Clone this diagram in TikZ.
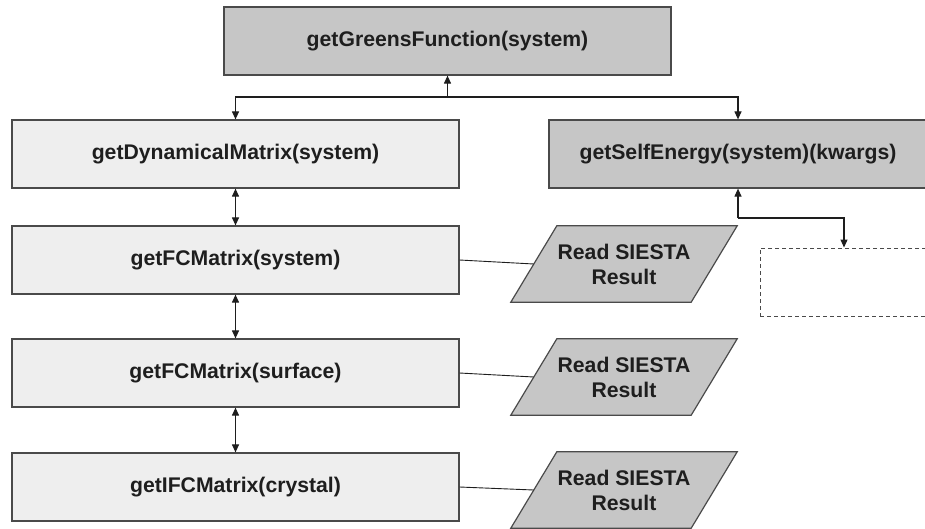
\documentclass[tikz,border=0pt]{standalone}
\usepackage{fontspec}
\setmainfont{Liberation Sans}
\usetikzlibrary{arrows.meta,backgrounds}

\definecolor{boxdark}{HTML}{C6C6C6}
\definecolor{boxlight}{HTML}{EEEEEE}
\definecolor{edgegray}{HTML}{4A4A4A}
\definecolor{inkgray}{HTML}{1E1E1E}

\tikzset{
  base/.style={draw=edgegray, line width=1.2pt, minimum height=68pt,
    inner sep=0pt, text=inkgray, align=center,
    font=\fontsize{21.2}{25}\selectfont\bfseries},
  funcdark/.style={base, fill=boxdark},
  funclight/.style={base, fill=boxlight},
  pending/.style={draw=edgegray, line width=1pt, dashed,
    dash pattern=on 4pt off 3pt, minimum height=68pt, minimum width=168pt},
  iobox/.style={minimum width=180pt, minimum height=76pt, inner sep=0pt,
    text=inkgray, align=center, font=\fontsize{21.2}{25}\selectfont\bfseries},
  ioshape/.style={fill=boxdark, draw=edgegray, line width=1.2pt},
  flow/.style={draw=inkgray, line width=1.1pt,
    -{Triangle[length=8pt,width=7pt]}},
  biflow/.style={draw=inkgray, line width=1.1pt,
    {Triangle[length=8pt,width=7pt]}-{Triangle[length=8pt,width=7pt]}},
  link/.style={draw=inkgray, line width=0.9pt}
}

\begin{document}
\begin{tikzpicture}[x=1pt, y=-1pt]
  \useasboundingbox (0,0) rectangle (925,528);

  % function blocks
  \node[funcdark, minimum width=447pt] (green) at (447.5,41) {getGreensFunction(system)};
  \node[funclight, minimum width=447pt] (dyn) at (235.5,154) {getDynamicalMatrix(system)};
  \node[funcdark, minimum width=378pt] (self) at (738,154) {getSelfEnergy(system)(kwargs)};
  \node[funclight, minimum width=447pt] (fcsys) at (235.5,260) {getFCMatrix(system)};
  \node[funclight, minimum width=447pt] (fcsurf) at (235.5,373) {getFCMatrix(surface)};
  \node[funclight, minimum width=447pt] (ifc) at (235.5,487) {getIFCMatrix(crystal)};

  % placeholder block below the self energy
  \node[pending] (extra) at (844,282) {};

  % data sources
  \node[iobox] (rd1) at (624,264) {Read SIESTA\\Result};
  \node[iobox] (rd2) at (624,377) {Read SIESTA\\Result};
  \node[iobox] (rd3) at (624,490) {Read SIESTA\\Result};

  \begin{scope}[on background layer]
    \foreach \p in {rd1,rd2,rd3}
      \path[ioshape] ([xshift=-23pt]\p.south west) -- ([xshift=23pt]\p.north west)
        -- ([xshift=23pt]\p.north east) -- ([xshift=-23pt]\p.south east) -- cycle;
  \end{scope}

  % call tree
  \coordinate (split) at (447.5,97);
  \draw[flow] (split) -- (green.south);
  \draw[flow] (split) -| (dyn.north);
  \draw[flow] (split) -| (self.north);

  \draw[biflow] (dyn.south) -- (fcsys.north);
  \draw[biflow] (fcsys.south) -- (fcsurf.north);
  \draw[biflow] (fcsurf.south) -- (ifc.north);

  \coordinate (bend) at (738,218);
  \draw[flow] (bend) -- (self.south);
  \draw[flow] (bend) -| (extra.north);

  % inputs
  \draw[link] (fcsys.east) -- (rd1.west);
  \draw[link] (fcsurf.east) -- (rd2.west);
  \draw[link] (ifc.east) -- (rd3.west);
\end{tikzpicture}
\end{document}
